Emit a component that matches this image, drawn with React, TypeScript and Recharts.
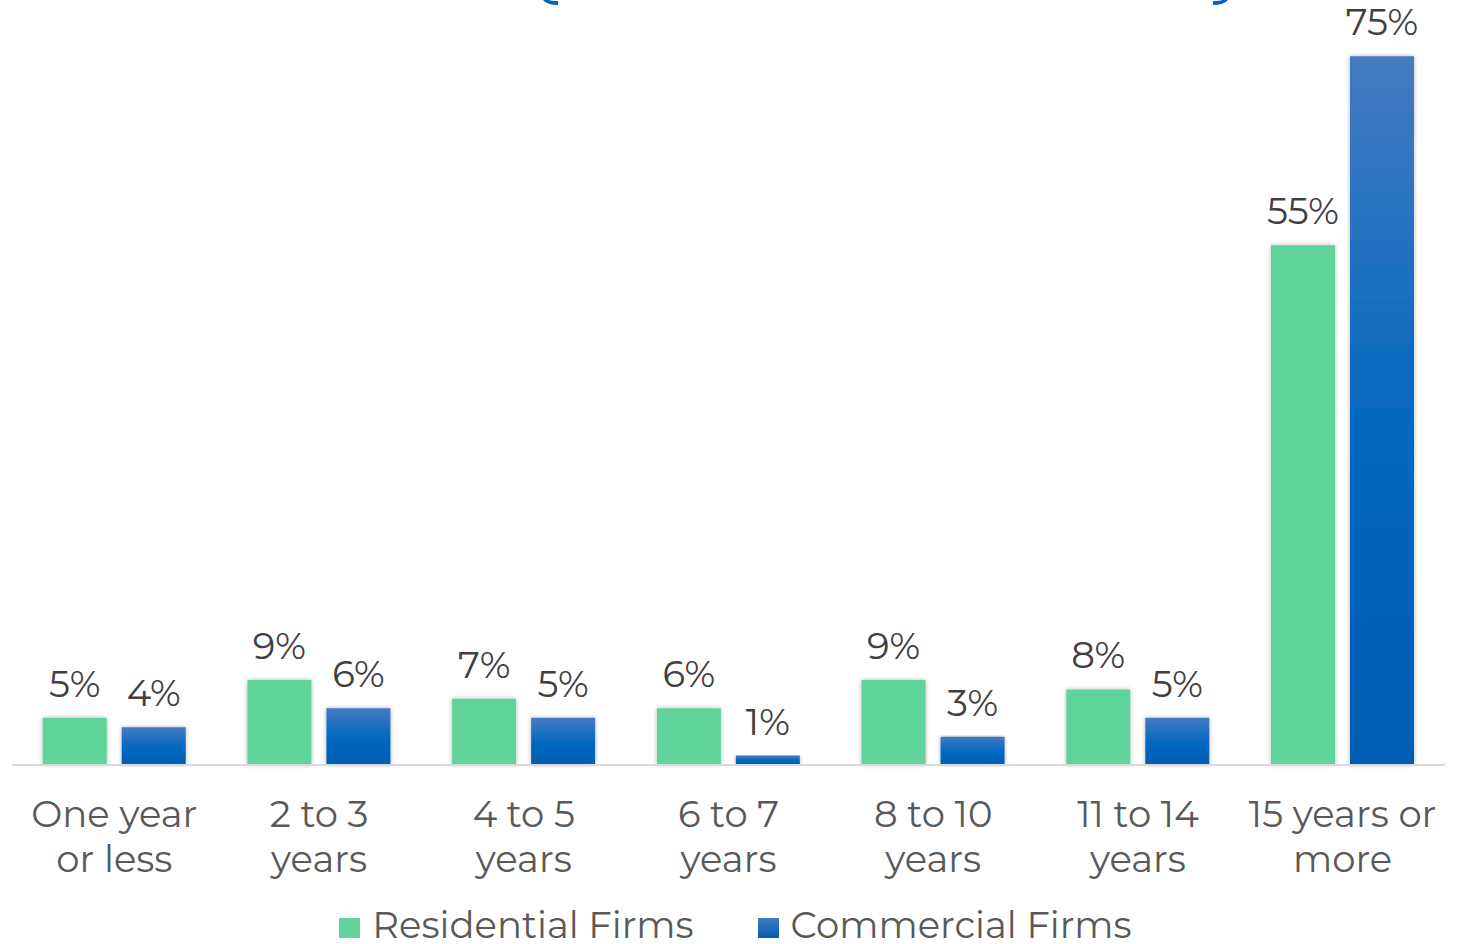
import React from 'react';
import { BarChart, Bar, XAxis, YAxis, LabelList, Legend } from 'recharts';

const categories = [
  'One year\nor less',
  '2 to 3\nyears',
  '4 to 5\nyears',
  '6 to 7\nyears',
  '8 to 10\nyears',
  '11 to 14\nyears',
  '15 years or\nmore',
];
const residential = [5, 9, 7, 6, 9, 8, 55];
const commercial = [4, 6, 5, 1, 3, 5, 75];
const seriesNames = ['Residential Firms', 'Commercial Firms'];

const FONT = "Montserrat, 'DejaVu Sans', sans-serif";
const GREEN = '#5fd39b';

const data = categories.map((name, i) => ({
  name,
  residential: residential[i],
  commercial: commercial[i],
}));

const ValueLabel = (props: any) => {
  const { x, y, width, value } = props;
  return (
    <text
      x={x + width / 2}
      y={y - 21}
      textAnchor="middle"
      fontFamily={FONT}
      fontSize={37}
      fill="#404040"
    >
      {value}%
    </text>
  );
};

const CategoryTick = (props: any) => {
  const { x, y, payload } = props;
  const lines = String(payload.value).split('\n');
  return (
    <text x={x} y={y} textAnchor="middle" fontFamily={FONT} fontSize={37} fill="#595959">
      {lines.map((line, i) => (
        <tspan key={i} x={x} dy={i === 0 ? 54 : 45}>
          {line}
        </tspan>
      ))}
    </text>
  );
};

const LegendBox = () => (
  <div
    style={{
      height: 44,
      boxSizing: 'border-box',
      paddingTop: 5,
      paddingLeft: 14,
      display: 'flex',
      justifyContent: 'center',
      alignItems: 'flex-start',
      fontFamily: FONT,
      fontSize: 37,
      color: '#595959',
      lineHeight: '40px',
    }}
  >
    {seriesNames.map((name, i) => (
      <div key={name} style={{ display: 'flex', alignItems: 'flex-start', marginLeft: i === 0 ? 0 : 64 }}>
        <span
          style={{
            display: 'inline-block',
            width: 21,
            height: 20,
            marginRight: 12,
            marginTop: 13,
            background: i === 0 ? GREEN : 'linear-gradient(#447bc1, #005db3)',
          }}
        />
        <span>{name}</span>
      </div>
    ))}
  </div>
);

const App = () => {
  return (
    <div style={{ position: 'absolute', left: 0, top: 0, width: 1463, height: 944, background: '#fff', overflow: 'hidden' }}>
      <svg width={1463} height={20} style={{ position: 'absolute', left: 0, top: 0 }}>
        <path d="M543 0 Q547 5 558 5 L558 1 Q551 1 549 0 Z" fill="#0563c1" />
        <path d="M1228 0 Q1224 5 1213 5 L1213 1 Q1220 1 1222 0 Z" fill="#0563c1" />
      </svg>
      <BarChart
        width={1463}
        height={944}
        data={data}
        margin={{ top: 9, right: 18, left: 12, bottom: 0 }}
        barCategoryGap="15%"
        barGap={15}
      >
        <defs>
          <linearGradient id="blueGrad" x1="0" y1="0" x2="0" y2="1">
            <stop offset="0%" stopColor="#447bc1" />
            <stop offset="55%" stopColor="#0067bf" />
            <stop offset="100%" stopColor="#005db3" />
          </linearGradient>
          <filter id="barShadow" x="-20%" y="-5%" width="140%" height="110%">
            <feDropShadow dx="0" dy="0" stdDeviation="2" floodColor="#000" floodOpacity="0.3" />
          </filter>
        </defs>
        <XAxis
          dataKey="name"
          interval={0}
          tickLine={false}
          axisLine={{ stroke: '#d9d9d9', strokeWidth: 2 }}
          height={135}
          tick={<CategoryTick />}
        />
        <YAxis hide domain={[0, 80]} />
        <Legend verticalAlign="bottom" content={<LegendBox />} />
        <Bar dataKey="residential" name={seriesNames[0]} fill={GREEN} filter="url(#barShadow)" isAnimationActive={false}>
          <LabelList dataKey="residential" content={<ValueLabel />} />
        </Bar>
        <Bar dataKey="commercial" name={seriesNames[1]} fill="url(#blueGrad)" filter="url(#barShadow)" isAnimationActive={false}>
          <LabelList dataKey="commercial" content={<ValueLabel />} />
        </Bar>
      </BarChart>
    </div>
  );
};

export default App;
